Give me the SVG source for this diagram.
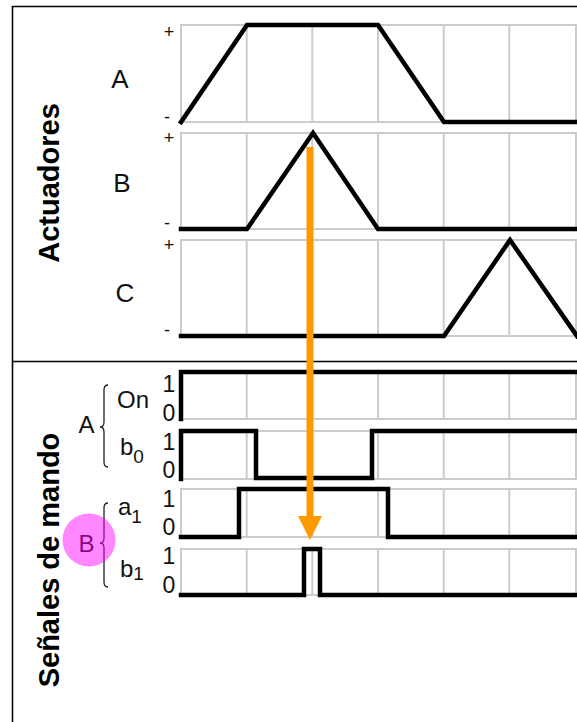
<svg xmlns="http://www.w3.org/2000/svg" width="577" height="722" viewBox="0 0 577 722">
<style>
.grid{fill:none;stroke:#cccccc;stroke-width:2}
.wave{fill:none;stroke:#000;stroke-width:4.5;stroke-linejoin:miter;stroke-linecap:square}
.frame{fill:none;stroke:#000;stroke-width:1.6}
.lbl{font-family:"Liberation Sans",Arial,sans-serif;fill:#111}
.big{font-size:26px;text-anchor:middle}
.pm{font-size:18px;text-anchor:middle}
.dig{font-size:23px;text-anchor:middle}
.sig{font-size:24px}
.sub{font-size:19px}
.title{font-family:"Liberation Sans",Arial,sans-serif;font-weight:bold;font-size:29px;fill:#000;text-anchor:middle}
.brace{fill:none;stroke:#222;stroke-width:1.3}
</style>
<defs>
<marker id="arrow" markerUnits="userSpaceOnUse" markerWidth="26" markerHeight="26" refX="0" refY="12" orient="auto">
<path d="M0,0 L24,12 L0,24 Z" fill="#FF9900"/>
</marker>
</defs>
<rect width="577" height="722" fill="#fff"/>
<g id="frame">
<path class="frame" d="M12.5,722 V6.5 H577 M12.5,361.5 H577"/>
</g>
<g id="titles">
<text class="title" transform="translate(59,183) rotate(-90)">Actuadores</text>
<text class="title" transform="translate(59,560) rotate(-90)">Señales de mando</text>
</g>
<g id="grid">
<rect class="grid" x="181" y="25" width="395" height="97"/>
<rect class="grid" x="181" y="133" width="395" height="96"/>
<rect class="grid" x="181" y="240" width="395" height="96"/>
<rect class="grid" x="181" y="371" width="395" height="48"/>
<rect class="grid" x="181" y="431" width="395" height="48"/>
<rect class="grid" x="181" y="489" width="395" height="48"/>
<rect class="grid" x="181" y="549" width="395" height="46"/>
<path class="grid" d="M246.7,25V122M312.3,25V122M378,25V122M443.7,25V122M509.3,25V122
M246.7,133V229M312.3,133V229M378,133V229M443.7,133V229M509.3,133V229
M246.7,240V336M312.3,240V336M378,240V336M443.7,240V336M509.3,240V336
M246.7,371V419M312.3,371V419M378,371V419M443.7,371V419M509.3,371V419
M246.7,431V479M312.3,431V479M378,431V479M443.7,431V479M509.3,431V479
M246.7,489V537M312.3,489V537M378,489V537M443.7,489V537M509.3,489V537
M246.7,549V595M312.3,549V595M378,549V595M443.7,549V595M509.3,549V595"/>
</g>
<g id="actuator-A">
<text class="lbl big" x="120" y="88">A</text>
<text class="lbl pm" x="169" y="37.5">+</text>
<text class="lbl pm" x="167" y="122.5">-</text>
<path class="wave" d="M181,122 L247,25 L378,25 L444,122 L577,122"/>
</g>
<g id="actuator-B">
<text class="lbl big" x="122" y="192">B</text>
<text class="lbl pm" x="169" y="144">+</text>
<text class="lbl pm" x="167" y="229">-</text>
<path class="wave" d="M181,229 L247,229 L313,133 L378,229 L577,229"/>
</g>
<g id="actuator-C">
<text class="lbl big" x="125" y="302">C</text>
<text class="lbl pm" x="169" y="251">+</text>
<text class="lbl pm" x="167" y="336">-</text>
<path class="wave" d="M181,336 L444,336 L510,240 L577,336"/>
</g>
<g id="group-A">
<text class="lbl sig" x="86.5" y="433" text-anchor="middle">A</text>
<path class="brace" d="M108,385 Q104,385 104,390 V422 Q104,427 100,427 Q104,427 104,432 V462 Q104,467 108,467"/>
</g>
<g id="signal-On">
<text class="lbl sig" x="117" y="408">On</text>
<text class="lbl dig" x="169" y="392">1</text>
<text class="lbl dig" x="169" y="421">0</text>
<path class="wave" d="M181,419 L181,372 L577,372"/>
</g>
<g id="signal-b0">
<text class="lbl sig" x="120" y="455">b<tspan class="sub" dy="8">0</tspan></text>
<text class="lbl dig" x="169" y="450">1</text>
<text class="lbl dig" x="169" y="478">0</text>
<path class="wave" d="M181,479 L181,431 L256,431 L256,478 L372,478 L372,431 L577,431"/>
</g>
<g id="group-B">
<text class="lbl sig" x="86.5" y="552" text-anchor="middle">B</text>
<path class="brace" d="M108,503 Q104,503 104,508 V538 Q104,543 100,543 Q104,543 104,548 V582 Q104,587 108,587"/>
<circle cx="89" cy="540" r="26.5" fill="#FF00FF" fill-opacity="0.47"/>
</g>
<g id="signal-a1">
<text class="lbl sig" x="118" y="515">a<tspan class="sub" dy="8">1</tspan></text>
<text class="lbl dig" x="169" y="507">1</text>
<text class="lbl dig" x="169" y="535">0</text>
<path class="wave" d="M181,537 L239,537 L239,489 L388,489 L388,537 L577,537"/>
</g>
<g id="signal-b1">
<text class="lbl sig" x="120" y="577">b<tspan class="sub" dy="3">1</tspan></text>
<text class="lbl dig" x="169" y="564">1</text>
<text class="lbl dig" x="169" y="593">0</text>
<path class="wave" d="M181,595 L304,595 L304,549 L320,549 L320,595 L577,595"/>
</g>
<g id="connectors">
<path d="M310,147 V516" stroke="#FF9900" stroke-width="7" fill="none" marker-end="url(#arrow)"/>
</g>
</svg>
